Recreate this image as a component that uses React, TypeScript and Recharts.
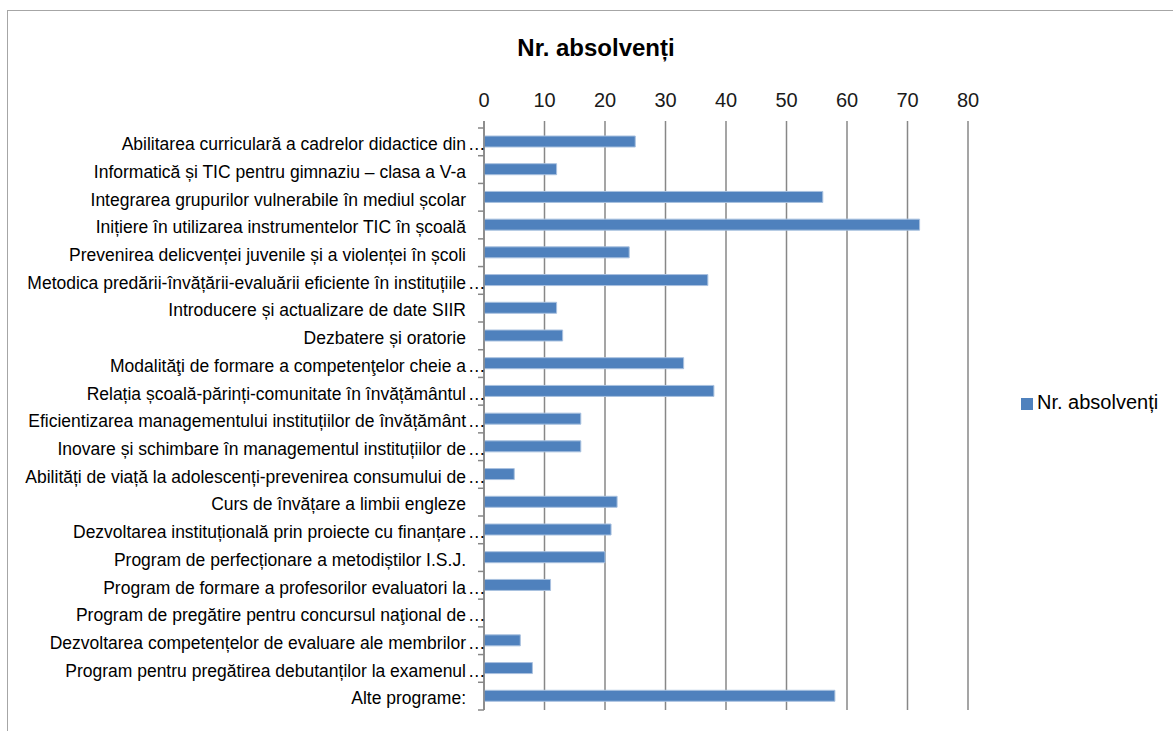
import { BarChart, Bar, XAxis, YAxis, CartesianGrid, Legend } from "recharts";

// categories as they appear (Excel cut the long ones with "…")
const categories = [
  "Abilitarea curriculară a cadrelor didactice din…",
  "Informatică și TIC pentru gimnaziu – clasa a V-a",
  "Integrarea grupurilor vulnerabile în mediul școlar",
  "Inițiere în utilizarea instrumentelor TIC în școală",
  "Prevenirea delicvenței juvenile și a violenței în școli",
  "Metodica predării-învățării-evaluării eficiente în instituțiile…",
  "Introducere și actualizare de date SIIR",
  "Dezbatere și oratorie",
  "Modalităţi de formare a competenţelor cheie a…",
  "Relația școală-părinți-comunitate în învățământul…",
  "Eficientizarea managementului instituțiilor de învățământ…",
  "Inovare și schimbare în managementul instituțiilor de…",
  "Abilități de viață la adolescenți-prevenirea consumului de…",
  "Curs de învățare a limbii engleze",
  "Dezvoltarea instituțională prin proiecte cu finanțare…",
  "Program de perfecționare a metodiștilor I.S.J.",
  "Program de formare a profesorilor evaluatori la…",
  "Program de pregătire pentru concursul naţional de…",
  "Dezvoltarea competențelor de evaluare ale membrilor…",
  "Program pentru pregătirea debutanților la examenul…",
  "Alte programe:",
];

const absolventi = [25, 12, 56, 72, 24, 37, 12, 13, 33, 38, 16, 16, 5, 22, 21, 20, 11, 0, 6, 8, 58];

const xTicks = [0, 10, 20, 30, 40, 50, 60, 70, 80];

const seriesName = "Nr. absolvenți";

const data = categories.map((name, i) => ({ name, value: absolventi[i] }));

const FONT = '"Liberation Sans", Arial, Helvetica, sans-serif';
const BLUE = "#4F81BD";
const GRID = "#878787";

const CHART_W = 1165;
const CHART_H = 720;
const MARGIN = { top: 80, right: 205, bottom: 21, left: 0 };
const X_AXIS_H = 30;
const Y_AXIS_W = 476;
const PAD_TOP = 7;
const BAND = (CHART_H - MARGIN.top - X_AXIS_H - MARGIN.bottom - PAD_TOP) / categories.length;
const LABEL_SIZE = 17.5;

// label at band centre, small tick marks on the band boundaries (Excel style)
function CategoryTick(props: any) {
  const { x, y, payload, index } = props;
  const label = String(payload.value);
  const cut = label.endsWith("…");
  const text = cut ? label.slice(0, -1) : label;
  const axisX = x + 18;
  return (
    <g>
      {index === 0 && (
        <line x1={axisX - 6} x2={axisX} y1={y - BAND / 2} y2={y - BAND / 2} stroke={GRID} strokeWidth={1.5} />
      )}
      <line x1={axisX - 6} x2={axisX} y1={y + BAND / 2} y2={y + BAND / 2} stroke={GRID} strokeWidth={1.5} />
      <text x={x} y={y + 2} dy="0.36em" textAnchor="end" fontSize={LABEL_SIZE} fill="#000" fontFamily={FONT}>
        {text}
      </text>
      {cut && (
        <text x={x + 2} y={y + 2} dy="0.36em" textAnchor="start" fontSize={LABEL_SIZE} fill="#000" fontFamily={FONT}>
          …
        </text>
      )}
    </g>
  );
}

export default function App() {
  return (
    <div style={{ position: "absolute", left: 0, top: 0, width: 1173, height: 731, background: "#fff", fontFamily: FONT }}>
      {/* chart frame, only top and left edges are inside the picture */}
      <div
        style={{
          position: "absolute",
          left: 7,
          top: 10,
          width: 1165,
          height: 720,
          borderTop: "1px solid #a6a6a6",
          borderLeft: "1px solid #a6a6a6",
        }}
      />
      <div
        style={{
          position: "absolute",
          left: 396,
          top: 36,
          width: 400,
          textAlign: "center",
          fontSize: 24,
          lineHeight: "24px",
          fontWeight: "bold",
          color: "#000",
        }}
      >
        Nr. absolvenți
      </div>
      <div style={{ position: "absolute", left: 8, top: 11 }}>
        <BarChart width={CHART_W} height={CHART_H} data={data} layout="vertical" margin={MARGIN} barCategoryGap={0}>
          <CartesianGrid horizontal={false} stroke={GRID} strokeWidth={1.5} />
          <XAxis
            type="number"
            orientation="top"
            domain={[0, 80]}
            ticks={xTicks}
            interval={0}
            height={X_AXIS_H}
            axisLine={false}
            tickLine={false}
            tickSize={6}
            tickMargin={8}
            tick={{ fontSize: 20, fill: "#1a1a1a", fontFamily: FONT }}
          />
          <YAxis
            type="category"
            dataKey="name"
            width={Y_AXIS_W}
            interval={0}
            padding={{ top: PAD_TOP, bottom: 0 }}
            axisLine={{ stroke: GRID, strokeWidth: 1.5 }}
            tickLine={false}
            tickSize={6}
            tickMargin={12}
            tick={<CategoryTick />}
          />
          <Legend
            layout="vertical"
            align="center"
            verticalAlign="middle"
            iconType="square"
            iconSize={12}
            formatter={(v) => <span style={{ color: "#000" }}>{v}</span>}
            wrapperStyle={{ left: 1013, top: 380, width: "auto", fontSize: 20, fontFamily: FONT }}
          />
          <Bar
            dataKey="value"
            name={seriesName}
            fill={BLUE}
            stroke="#a9c1df"
            strokeWidth={1}
            barSize={11}
            isAnimationActive={false}
          />
        </BarChart>
      </div>
    </div>
  );
}
